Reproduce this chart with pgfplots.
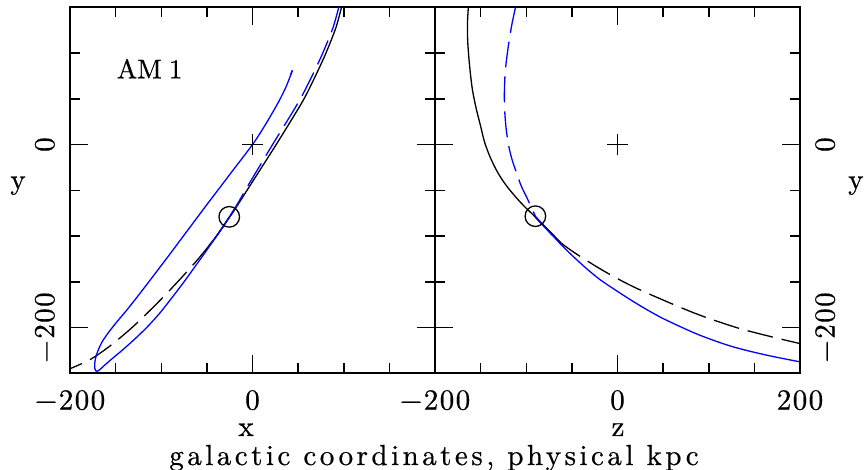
\documentclass[border=0pt]{standalone}
\usepackage{fontspec}
\setmainfont{lmroman10-regular.otf}
\usepackage{pgfplots}
\pgfplotsset{compat=1.18}
\newcommand\lblfont{\fontsize{29}{34}\selectfont\addfontfeatures{FakeBold=0.6}}
\newcommand\tickfont{\fontsize{29}{34}\selectfont\addfontfeatures{LetterSpace=5,FakeBold=0.6}}
\definecolor{pblue}{RGB}{0,0,255}
\pgfplotsset{
 panel/.style={
  scale only axis, width=365pt, height=366pt, anchor=south west,
  xmin=-200,xmax=200,ymin=-250,ymax=150,
  xtick={-200,0,200}, minor xtick={-150,-100,-50,50,100,150},
  ytick={-200,0}, minor ytick={-150,-100,-50,50,100},
  yticklabels={−200,0},
  tick align=inside, xtick pos=both, ytick pos=both,
  major tick length=18pt, minor tick length=10pt,
  tick style={black, line width=1.5pt},
  axis line style={line width=2pt},
  xticklabel pos=lower,
  xticklabel style={font=\tickfont, inner sep=0pt, anchor=north, yshift=-16.7pt},
 },
 solidk/.style={black, line width=1.3pt, smooth},
 dashk/.style={black, line width=1.3pt, smooth, dash pattern=on 26pt off 9pt},
 solidb/.style={pblue, line width=1.3pt, smooth},
 dashb/.style={pblue, line width=1.3pt, smooth, dash pattern=on 26pt off 9pt},
 circ/.style={only marks, mark=o, mark size=10.3pt, mark options={black, line width=1.3pt}},
 cross/.style={only marks, mark=+, mark size=10.5pt, mark options={black, line width=1.4pt}},
}
\begin{document}
\begin{tikzpicture}[x=1pt,y=1pt]
\useasboundingbox (0,0) rectangle (864,470);
% left panel: x vs y
\begin{axis}[panel, at={(70pt,96.7pt)},
  xticklabels={−200,0,{}},
  yticklabel pos=left,
  yticklabel style={font=\tickfont, inner sep=0pt, xshift=-15pt, rotate=90, anchor=south},
]
\addplot[solidk] coordinates {(97.5,150) (91.5,128) (80.5,100) (69,75) (56.5,50) (41.5,25) (26,0) (10,-25) (-6,-50) (-22,-75) (-25,-79) (-39.5,-100) (-47.5,-110)};
\addplot[dashk] coordinates {(-25,-79) (-39.5,-100) (-59.5,-125) (-82,-150) (-106,-175) (-132,-200) (-156,-220) (-178,-235) (-200,-245)};
\addplot[dashb] coordinates {(94.5,150) (88.3,128) (77,100) (65.3,75) (52.5,50) (37.5,25) (22,0) (7,-25) (-8,-50) (-16.5,-65) (-25.5,-79)};
\addplot[solidb] coordinates {(-25.5,-79) (-34.5,-93) (-49.5,-114.5) (-62,-132) (-75,-150) (-88,-167) (-101,-183.5) (-115,-199) (-129.5,-213) (-143,-225) (-155,-235) (-163,-242) (-168.5,-247) (-171.5,-247.5) (-173,-243.5) (-172.5,-236) (-170,-227) (-165,-216) (-157.5,-205) (-148,-193) (-137,-180) (-124,-163.5) (-109,-144) (-91.5,-121) (-76.5,-101) (-51,-67) (-25.5,-33.5) (0,0) (14.6,22.5) (28.5,46.5) (36.5,62.5) (41.5,75) (43.7,81)};
\addplot[pblue, line width=1.3pt] coordinates {(43.7,81) (41.8,76.5)};
\addplot[circ] coordinates {(-25.5,-79)};
\addplot[cross] coordinates {(0,0)};
\end{axis}
% right panel: z vs y
\begin{axis}[panel, at={(435pt,96.7pt)},
  xticklabels={−200,0,200},
  yticklabel pos=right,
  yticklabel style={font=\tickfont, inner sep=0pt, xshift=15pt, rotate=90, anchor=north},
]
\addplot[solidk] coordinates {(-163.5,150) (-164.5,130) (-164,110) (-162,85) (-159,60) (-155,40) (-150,20) (-145.5,2) (-139,-15) (-131,-31) (-121,-46) (-106,-63.5) (-91,-78.3) (-75,-94) (-62,-107.5)};
\addplot[dashk] coordinates {(-91,-78.3) (-62,-107.5) (-23.6,-133.1) (12.8,-153.2) (49.2,-169.6) (89.3,-186.1) (133,-200.8) (174.9,-211.6) (200,-217.5)};
\addplot[dashb] coordinates {(-111.8,150) (-116,130) (-120,105) (-123,80) (-124,55) (-123.5,35) (-122,17) (-119.5,0) (-116,-15) (-111,-30) (-105.6,-45) (-98.4,-60) (-90,-78.3)};
\addplot[solidb] coordinates {(-90,-78.3) (-80,-90) (-69.2,-101.5) (-56.4,-114.8) (-38,-132) (-20,-147) (0,-160.5) (16.4,-171) (34,-181.5) (52.9,-191.6) (89.3,-208) (125.7,-220.8) (162.2,-229.9) (200,-237.5)};
\addplot[circ] coordinates {(-90,-78.3)};
\addplot[cross] coordinates {(0,0)};
\end{axis}
% labels
\node[anchor=base west, inner sep=0pt, font=\fontsize{27}{32}\selectfont\addfontfeatures{FakeBold=0.6}] at (116.7,391.7) {AM\hspace{7pt}1};
\node[anchor=base, inner sep=0pt, font=\lblfont] at (246,34) {x};
\node[anchor=base, inner sep=0pt, font=\lblfont] at (618,34) {z};
\node[anchor=base, inner sep=0pt, font=\lblfont] at (18,281) {y};
\node[anchor=base west, inner sep=0pt, font=\lblfont] at (848,281) {y};
\node[anchor=base, inner sep=0pt, font={\lblfont\addfontfeatures{LetterSpace=12}}] at (434,5) {galactic coordinates, physical kpc};
\end{tikzpicture}
\end{document}
